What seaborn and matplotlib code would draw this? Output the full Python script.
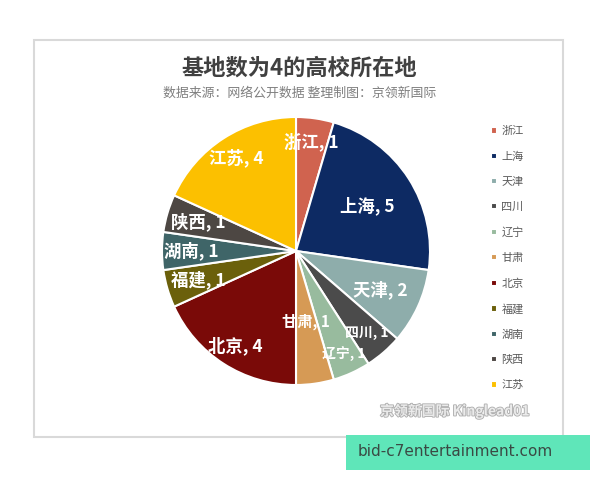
import numpy as np
import matplotlib
matplotlib.use("Agg")
import matplotlib.pyplot as plt
import matplotlib.patches as mpatches
import matplotlib.patheffects as pe
import seaborn as sns

# ---- data ----
provinces = ["浙江", "上海", "天津", "四川", "辽宁", "甘肃", "北京", "福建", "湖南", "陕西", "江苏"]
counts = [1, 5, 2, 1, 1, 1, 4, 1, 1, 1, 4]
colors = ["#D0634F", "#0D2A63", "#8EADAB", "#4B4B4B", "#98BB9E", "#D69A55",
          "#7A0A08", "#6B600B", "#3F6568", "#4D4743", "#FCC000"]
title = "基地数为4的高校所在地"
subtitle = "数据来源：网络公开数据 整理制图：京领新国际"

# ---- style (label placement / sizes) ----
label_radius = {"浙江": 0.82, "上海": 0.63, "天津": 0.69, "四川": 0.81, "辽宁": 0.85,
                "甘肃": 0.53, "北京": 0.84, "福建": 0.76, "湖南": 0.78, "陕西": 0.76, "江苏": 0.83}
label_size = {"四川": 10, "辽宁": 10, "甘肃": 11}

sns.set_theme(style="white")
plt.rcParams["font.family"] = ["Noto Sans CJK SC", "DejaVu Sans"]

W, H = 600, 480
fig = plt.figure(figsize=(6, 4.8), dpi=100)
fig.patch.set_facecolor("white")

# outer frame
fig.patches.append(mpatches.Rectangle((34 / W, 1 - 437 / H), (563 - 34) / W, (437 - 40) / H,
                                      transform=fig.transFigure, fill=False,
                                      edgecolor="#D9D9D9", linewidth=1.5, zorder=0))

cx, cy, R = 296, 251, 134
ax = fig.add_axes([(cx - R) / W, (H - cy - R) / H, 2 * R / W, 2 * R / H])
wedges, _ = ax.pie(counts, colors=colors, startangle=90, counterclock=False,
                   radius=1, wedgeprops=dict(edgecolor="white", linewidth=1.5))
ax.set_xlim(-1, 1)
ax.set_ylim(-1, 1)
ax.set_aspect("equal")
ax.axis("off")

for w, name, val in zip(wedges, provinces, counts):
    ang = np.deg2rad((w.theta1 + w.theta2) / 2)
    r = label_radius.get(name, 0.75)
    ax.text(r * np.cos(ang), r * np.sin(ang), f"{name}, {val}", ha="center", va="center",
            color="white", fontweight="bold", fontsize=label_size.get(name, 12.5))

fig.text(299 / W, 1 - 68 / H, title, ha="center", va="center", fontsize=16,
         fontweight="bold", color="#404040")
fig.text(300 / W, 1 - 93 / H, subtitle, ha="center", va="center", fontsize=9.3, color="#7F7F7F")

leg = fig.legend(wedges, provinces, loc="upper left", bbox_to_anchor=(487 / W, 1 - 122 / H),
                 frameon=False, fontsize=8, labelcolor="#595959", handlelength=0.5,
                 handleheight=0.5, handletextpad=0.4, labelspacing=1.36, borderaxespad=0)

# watermark
fig.text(455 / W, 1 - 411 / H, "京领新国际 Kinglead01", ha="center", va="center",
         fontsize=10, fontweight="bold", color="#EBEBEB",
         path_effects=[pe.withStroke(linewidth=1.3, foreground="#B0B0B0")])

fig.patches.append(mpatches.Rectangle((346 / W, 1 - 470 / H), (590 - 346) / W, 35 / H,
                                      transform=fig.transFigure, facecolor="#5FE6B9",
                                      edgecolor="none", zorder=5))
fig.text(455 / W, 1 - 452 / H, "bid-c7entertainment.com", ha="center", va="center",
         fontsize=11, color="#3A4A44", zorder=6, family=["DejaVu Sans"])

fig.savefig("out.png", dpi=100, facecolor="white")
